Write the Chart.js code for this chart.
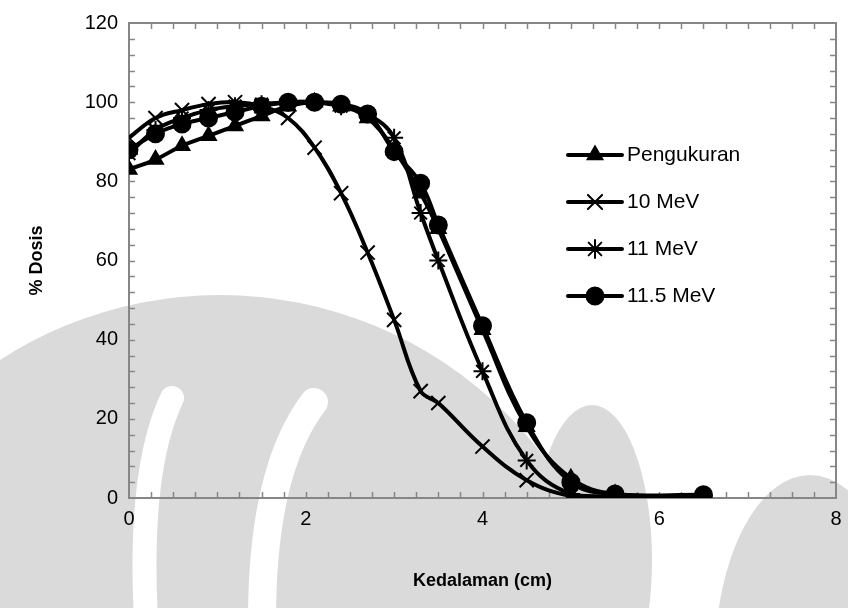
<!DOCTYPE html>
<html>
<head>
<meta charset="utf-8">
<script src="https://cdn.jsdelivr.net/npm/chart.js@4/dist/chart.umd.min.js"></script>
<style>
  html, body { margin: 0; padding: 0; background: #fff; overflow: hidden; }
  #wrap { width: 848px; height: 608px; position: relative; }
  #pdd { display: block; }
</style>
</head>
<body>
<div id="wrap"><canvas id="pdd"></canvas></div>
<script>
// kedalaman (cm)
var depth = [0, 0.3, 0.6, 0.9, 1.2, 1.5, 1.8, 2.1, 2.4, 2.7, 3.0, 3.3, 3.5, 4.0, 4.5, 5.0, 5.5, 6.5];
// % dosis
var pengukuran = [83, 85.5, 89, 91.5, 94, 96.5, 99, 100, 99, 96, 88, 77, 68, 42.5, 18, 5, 1, 0.5];
var mev10 = [91, 96, 98, 99.5, 100, 99, 96, 88.5, 77, 62, 45, 27, 24, 13, 4.5, 0.5, 0, 0];
var mev11 = [87, 93, 96, 98, 99, 99.5, 100, 100, 99, 97, 91, 72, 60, 32, 9.5, 1, 0.5, 0.5];
var mev115 = [88, 92, 94.5, 96, 97.5, 99, 100, 100, 99.5, 97, 87.5, 79.5, 69, 43.5, 19, 4, 1, 0.8];
var seriesLabels = ['Pengukuran', '10 MeV', '11 MeV', '11.5 MeV'];
var xTitle = 'Kedalaman (cm)';
var yTitle = '% Dosis';

function pts(arr) {
    return depth.map(function (d, i) { return {x: d, y: arr[i]}; });
}

function ds(label, arr, style, radius, order) {
    return {
        label: label,
        data: pts(arr),
        borderColor: '#000',
        backgroundColor: '#000',
        borderWidth: 4,
        tension: 0.4,
        pointStyle: style,
        pointRadius: radius,
        pointBorderWidth: 2,
        pointBorderColor: '#000',
        pointBackgroundColor: '#000',
        order: order
    };
}

var axisGrey = '#868686';

// faint background watermark of the page the chart was taken from
var watermark = {
    id: 'watermark',
    beforeDraw: function (chart) {
        var ctx = chart.ctx;
        ctx.save();
        ctx.fillStyle = '#dadada';
        ctx.beginPath();
        ctx.arc(220, 700, 405, 0, Math.PI * 2);
        ctx.fill();
        ctx.beginPath();
        ctx.ellipse(592, 560, 60, 155, 0, 0, Math.PI * 2);
        ctx.fill();
        ctx.beginPath();
        ctx.ellipse(810, 660, 95, 185, 0, 0, Math.PI * 2);
        ctx.fill();
        ctx.strokeStyle = '#fff';
        ctx.lineCap = 'round';
        ctx.lineWidth = 24;
        ctx.beginPath();
        ctx.moveTo(172, 398);
        ctx.quadraticCurveTo(138, 470, 146, 620);
        ctx.stroke();
        ctx.lineWidth = 28;
        ctx.beginPath();
        ctx.moveTo(314, 402);
        ctx.quadraticCurveTo(262, 470, 262, 620);
        ctx.stroke();
        ctx.restore();
    }
};

var frameTicks = {
    id: 'frameTicks',
    beforeDatasetsDraw: function (chart) {
        var ctx = chart.ctx, a = chart.chartArea;
        var xs = chart.scales.x, ys = chart.scales.y;
        ctx.save();
        ctx.strokeStyle = axisGrey;
        ctx.lineWidth = 1.5;
        ctx.beginPath();
        for (var v = 0.25; v < 8; v += 0.25) {
            var px = Math.round(xs.getPixelForValue(v)) + 0.5;
            ctx.moveTo(px, a.bottom); ctx.lineTo(px, a.bottom - 6);
            ctx.moveTo(px, a.top); ctx.lineTo(px, a.top + 6);
        }
        for (var w = 4; w < 120; w += 4) {
            var py = Math.round(ys.getPixelForValue(w)) + 0.5;
            ctx.moveTo(a.left, py); ctx.lineTo(a.left + 6, py);
            ctx.moveTo(a.right, py); ctx.lineTo(a.right - 6, py);
        }
        ctx.stroke();
        ctx.lineWidth = 2;
        ctx.strokeRect(a.left, a.top, a.right - a.left, a.bottom - a.top);
        ctx.restore();
    }
};

var sideLegend = {
    id: 'sideLegend',
    afterDraw: function (chart) {
        var ctx = chart.ctx;
        ctx.save();
        chart.data.datasets.forEach(function (d, i) {
            var y = 155 + i * 47;
            ctx.strokeStyle = '#000';
            ctx.lineWidth = 4;
            ctx.lineCap = 'round';
            ctx.beginPath();
            ctx.moveTo(568, y); ctx.lineTo(622, y);
            ctx.stroke();
            ctx.fillStyle = '#000';
            ctx.lineWidth = d.pointBorderWidth;
            Chart.helpers.drawPoint(ctx, {pointStyle: d.pointStyle, radius: d.pointRadius, borderWidth: d.pointBorderWidth, rotation: 0}, 595, y);
            ctx.font = '21px "Liberation Sans", Arial, sans-serif';
            ctx.textBaseline = 'middle';
            ctx.textAlign = 'left';
            ctx.fillText(d.label, 627, y);
        });
        ctx.restore();
    }
};

function noPadding() {
    return {left: 0, right: 0, top: 0, bottom: 0};
}

Chart.defaults.font.family = '"Liberation Sans", Arial, sans-serif';
Chart.defaults.font.size = 20;
Chart.defaults.color = '#000';

var pdd_chart = new Chart(document.getElementById('pdd'), {
    type: 'line',
    data: {
        datasets: [
            ds(seriesLabels[0], pengukuran, 'triangle', 8.5, 4),
            ds(seriesLabels[1], mev10, 'crossRot', 10, 3),
            ds(seriesLabels[2], mev11, 'star', 9, 2),
            ds(seriesLabels[3], mev115, 'circle', 8.5, 1)
        ]
    },
    options: {
        responsive: true,
        maintainAspectRatio: false,
        animation: false,
        layout: {padding: {left: 0, right: 4, top: 23, bottom: 0}},
        plugins: {legend: {display: false}, tooltip: {enabled: false}},
        scales: {
            x: {
                type: 'linear',
                min: 0,
                max: 8,
                grid: {display: false, drawTicks: false},
                border: {display: false},
                ticks: {
                    stepSize: 0.25,
                    autoSkip: false,
                    maxRotation: 0,
                    padding: 9,
                    callback: function (v) { return v % 2 === 0 ? v : ''; }
                },
                title: {display: true, text: xTitle, font: {size: 18, weight: 'bold'}, padding: {top: 4, bottom: 16}},
                afterFit: function (s) {
                    s.height = 110;
                    s.getPadding = noPadding;
                }
            },
            y: {
                min: 0,
                max: 120,
                grid: {display: false, drawTicks: false},
                border: {display: false},
                ticks: {
                    stepSize: 4,
                    autoSkip: false,
                    padding: 11,
                    callback: function (v) { return v % 20 === 0 ? v : ''; }
                },
                title: {display: true, text: yTitle, font: {size: 18, weight: 'bold'}, padding: {top: 26, bottom: 4}},
                afterFit: function (s) {
                    s.width = 129;
                    s.getPadding = noPadding;
                }
            }
        }
    },
    plugins: [watermark, frameTicks, sideLegend]
});
</script>
</body>
</html>
